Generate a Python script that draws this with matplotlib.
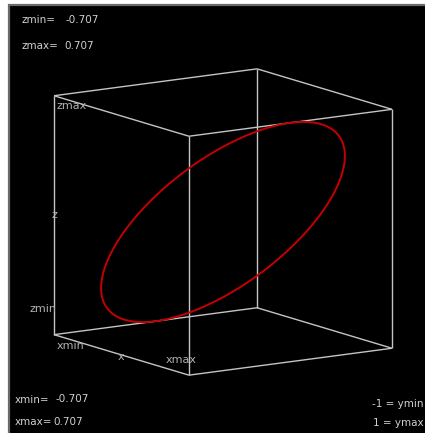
import numpy as np
import matplotlib
matplotlib.use("Agg")
import matplotlib.pyplot as plt
from matplotlib.patches import Rectangle
from matplotlib.transforms import IdentityTransform

# ---------------- data ----------------
x_limits = [-0.707, 0.707]
y_limits = [-1.0, 1.0]
z_limits = [-0.707, 0.707]
# parametric circle: x = ax*cos t, y = ay*sin t, z = az*cos t
x_amplitude = 0.707
y_amplitude = 1.0
z_amplitude = 0.707
n_samples = 400

range_labels_top = [("zmin=", "-0.707"), ("zmax=", "0.707")]
range_labels_bottom = [("xmin=", "-0.707"), ("xmax=", "0.707")]
range_labels_right = ["-1 = ymin", "1 = ymax"]

t = np.linspace(0, 2 * np.pi, n_samples)
curve_x = x_amplitude * np.cos(t)
curve_y = y_amplitude * np.sin(t)
curve_z = z_amplitude * np.cos(t)

# ---------------- figure ----------------
W, H, DPI = 425, 433, 100
fig = plt.figure(figsize=(W / DPI, H / DPI), dpi=DPI, facecolor="white")
fig.add_artist(Rectangle((9, -10), W + 20, H - 5 + 10, transform=IdentityTransform(),
                         facecolor="black", edgecolor="#6a6a6a", linewidth=1.6,
                         zorder=-10))

ax = fig.add_axes([0, 0, 1, 1], projection="3d")
ax.set_zorder(5)
ax.set_proj_type("ortho")
ax.view_init(elev=11.5, azim=-33.6)
ax.set_xlim(x_limits)
ax.set_ylim(y_limits)
ax.set_zlim(z_limits)
ax.set_box_aspect((1, 1, 1))
ax.set_axis_off()
ax.set_facecolor("none")
ax.patch.set_alpha(0)

edge_kw = dict(color="#c4c4c4", lw=1.0, solid_capstyle="butt")
for yv in y_limits:
    for zv in z_limits:
        ax.plot(x_limits, [yv, yv], [zv, zv], **edge_kw)
for xv in x_limits:
    for zv in z_limits:
        ax.plot([xv, xv], y_limits, [zv, zv], **edge_kw)
for xv in x_limits:
    for yv in y_limits:
        ax.plot([xv, xv], [yv, yv], z_limits, **edge_kw)

ax.plot(curve_x, curve_y, curve_z, color="#c40000", lw=1.4)


def project(pts):
    fig.canvas.draw()
    M = ax.get_proj()
    pts = np.asarray(pts, dtype=float)
    hom = np.column_stack([pts, np.ones(len(pts))]) @ M.T
    xy = hom[:, :2] / hom[:, 3:4]
    return xy, ax.transData.transform(xy)


corners = np.array([[xv, yv, zv] for xv in x_limits for yv in y_limits for zv in z_limits])

# fit the box to the layout (width of projected box, centre position)
_, px = project(corners)
zoom = 338.0 / (px[:, 0].max() - px[:, 0].min())
ax.set_box_aspect((1, 1, 1), zoom=zoom)
_, px = project(corners)
cx, cy = px.mean(axis=0)
ax.set_position([(223 - cx) / W, ((H - 222) - cy) / H, 1, 1])

# labels along the edges
xmin, xmax = x_limits
ymin = y_limits[0]
zmin, zmax = z_limits
anchors = np.array([
    [xmin, ymin, zmax],
    [xmin, ymin, (zmin + zmax) / 2],
    [xmin, ymin, zmin],
    [xmin, ymin, zmin],
    [(xmin + xmax) / 2, ymin, zmin],
    [xmax, ymin, zmin],
])
xy2d, _ = project(anchors)
scene_labels = [("zmax", (3, -10), "left"), ("z", (0, 0), "center"),
                ("zmin", (3, 26), "right"), ("xmin", (3, -11), "left"),
                ("x", (0, -2), "center"), ("xmax", (-8, 15), "center")]
lab_kw = dict(color="#b0b0b0", fontsize=8, family="DejaVu Sans")
for (txt, off, ha), p in zip(scene_labels, xy2d):
    ax.annotate(txt, xy=p, xycoords="data", xytext=off, textcoords="offset pixels",
                ha=ha, va="center", **lab_kw)

# corner range texts (figure pixel coordinates)
txt_kw = dict(color="#d0d0d0", fontsize=7.5, family="DejaVu Sans", va="center",
              transform=IdentityTransform(), zorder=10)
fig.text(22, H - 20, range_labels_top[0][0], **txt_kw)
fig.text(66, H - 20, range_labels_top[0][1], **txt_kw)
fig.text(22, H - 46, range_labels_top[1][0], **txt_kw)
fig.text(64, H - 46, range_labels_top[1][1], **txt_kw)
fig.text(15, H - 400, range_labels_bottom[0][0], **txt_kw)
fig.text(56, H - 399, range_labels_bottom[0][1], **txt_kw)
fig.text(15, H - 422, range_labels_bottom[1][0], **txt_kw)
fig.text(53, H - 422, range_labels_bottom[1][1], **txt_kw)
fig.text(423, H - 404, range_labels_right[0], ha="right", **txt_kw)
fig.text(424, H - 423, range_labels_right[1], ha="right", **txt_kw)

fig.savefig("out.png", dpi=DPI, facecolor="white")
